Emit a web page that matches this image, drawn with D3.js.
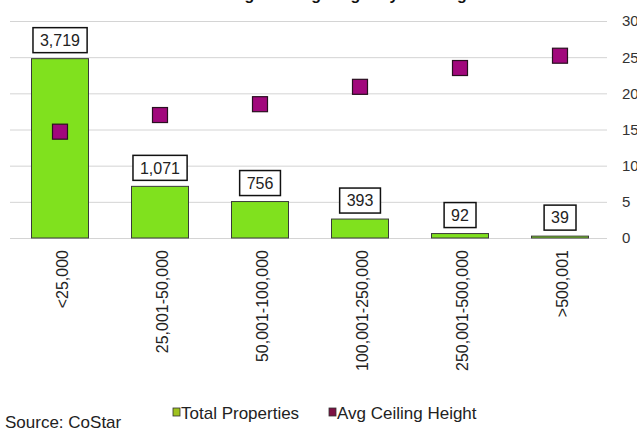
<!DOCTYPE html>
<html lang="en">
<head>
<meta charset="utf-8">
<title>Properties by Size</title>
<script type="text/javascript" src="https://cdn.jsdelivr.net/npm/d3@7"></script>
<style>
  body { margin: 0; background: #fff; }
  svg { display: block; font-family: Arial, "Liberation Sans", sans-serif; }
  .grid line { stroke: #d4d4d4; }
  .grid path { display: none; }
</style>
</head>
<body>
<script type="text/javascript">
  // data
  let sizeBands = ["<25,000", "25,001-50,000", "50,001-100,000", "100,001-250,000", "250,001-500,000", ">500,001"]
  let totalProperties = [3719, 1071, 756, 393, 92, 39]
  let avgCeiling = [14.7, 17, 18.5, 20.9, 23.5, 25.2]
  let rightTicks = [0, 5, 10, 15, 20, 25, 30]

  let w = 637;
  let h = 430;
  let plotLeft = 10, plotRight = 610, plotTop = 21, plotBottom = 238

  let svg = d3.select("body")
    .append("svg")
    .attr("width", w)
    .attr("height", h)

  let xScale = d3.scaleBand()
    .domain(sizeBands)
    .range([plotLeft, plotRight])
    .paddingInner(0.43)
    .paddingOuter(0.215)

  // bars use a hidden left axis (0 - 4500), squares use the right axis (0 - 30)
  let yLeft = d3.scaleLinear()
    .domain([0, 4500])
    .range([plotBottom, plotTop])

  let yRight = d3.scaleLinear()
    .domain([0, 30])
    .range([plotBottom, plotTop])

  // title, cut off at the top of the picture (only descenders show)
  svg.append("text")
    .attr("x", 352)
    .attr("y", -0.5)
    .attr("text-anchor", "middle")
    .style("font-size", "16px")
    .style("font-weight", "bold")
    .attr("fill", "#111")
    .text("Average Ceiling Height by Building Size")

  // gridlines
  svg.append("g")
    .attr("class", "grid")
    .attr("transform", "translate(" + plotLeft + ",0)")
    .call(d3.axisRight(yRight).tickValues(rightTicks).tickSize(plotRight - plotLeft - 3).tickFormat(""))

  // right axis labels (cut by the picture edge)
  svg.append("g")
    .selectAll("text")
    .data(rightTicks)
    .enter()
    .append("text")
    .attr("x", 622)
    .attr("y", (d) => yRight(d))
    .attr("dy", "0.36em")
    .style("font-size", "15px")
    .attr("fill", "#333")
    .text((d) => d)

  // bars
  svg.append("g")
    .selectAll("rect")
    .data(totalProperties)
    .enter()
    .append("rect")
    .attr("x", (d, i) => xScale(sizeBands[i]))
    .attr("y", (d) => yLeft(d))
    .attr("width", xScale.bandwidth())
    .attr("height", (d) => plotBottom - yLeft(d))
    .attr("fill", "#80e11e")
    .attr("stroke", "#3a3a3a")
    .attr("stroke-width", 1)

  // bar value labels in boxes
  let labels = svg.append("g")
    .selectAll("g")
    .data(totalProperties)
    .enter()
    .append("g")

  labels.append("text")
    .attr("x", (d, i) => xScale(sizeBands[i]) + xScale.bandwidth() / 2)
    .attr("y", (d) => yLeft(d) - 6 - 12.5)
    .attr("dy", "0.36em")
    .attr("text-anchor", "middle")
    .style("font-size", "16px")
    .attr("fill", "#222")
    .text((d) => d3.format(",")(d))

  labels.each(function() {
    let t = d3.select(this).select("text")
    let bb = t.node().getBBox()
    d3.select(this).insert("rect", "text")
      .attr("x", bb.x - 7)
      .attr("y", +t.attr("y") - 12.5)
      .attr("width", bb.width + 14)
      .attr("height", 25)
      .attr("fill", "#fff")
      .attr("stroke", "#111")
      .attr("stroke-width", 1.5)
  })

  // ceiling height squares
  svg.append("g")
    .selectAll("rect")
    .data(avgCeiling)
    .enter()
    .append("rect")
    .attr("x", (d, i) => xScale(sizeBands[i]) + xScale.bandwidth() / 2 - 7.5)
    .attr("y", (d) => yRight(d) - 7.5)
    .attr("width", 15)
    .attr("height", 15)
    .attr("fill", "#a1087c")
    .attr("stroke", "#2a1020")
    .attr("stroke-width", 1.2)

  // rotated category labels
  svg.append("g")
    .selectAll("text")
    .data(sizeBands)
    .enter()
    .append("text")
    .attr("transform", (d) => "translate(" + (xScale(d) + xScale.bandwidth() / 2 + 2) + ",250) rotate(-90)")
    .attr("text-anchor", "end")
    .attr("dy", "0.36em")
    .style("font-size", "16px")
    .attr("fill", "#222")
    .text((d) => d)

  // legend
  let legend = [["Total Properties", "#9fc21f", 173], ["Avg Ceiling Height", "#7c1042", 329]]
  let lg = svg.append("g")
    .selectAll("g")
    .data(legend)
    .enter()
    .append("g")
  lg.append("rect")
    .attr("x", (d) => d[2])
    .attr("y", 408)
    .attr("width", 7)
    .attr("height", 8)
    .attr("fill", (d) => d[1])
    .attr("stroke", "#333")
    .attr("stroke-width", 0.8)
  lg.append("text")
    .attr("x", (d) => d[2] + 8)
    .attr("y", 413)
    .attr("dy", "0.36em")
    .style("font-size", "17px")
    .attr("fill", "#222")
    .text((d) => d[0])

  svg.append("text")
    .attr("x", 5)
    .attr("y", 422)
    .attr("dy", "0.36em")
    .style("font-size", "17px")
    .attr("fill", "#222")
    .text("Source: CoStar")
</script>
</body>
</html>
